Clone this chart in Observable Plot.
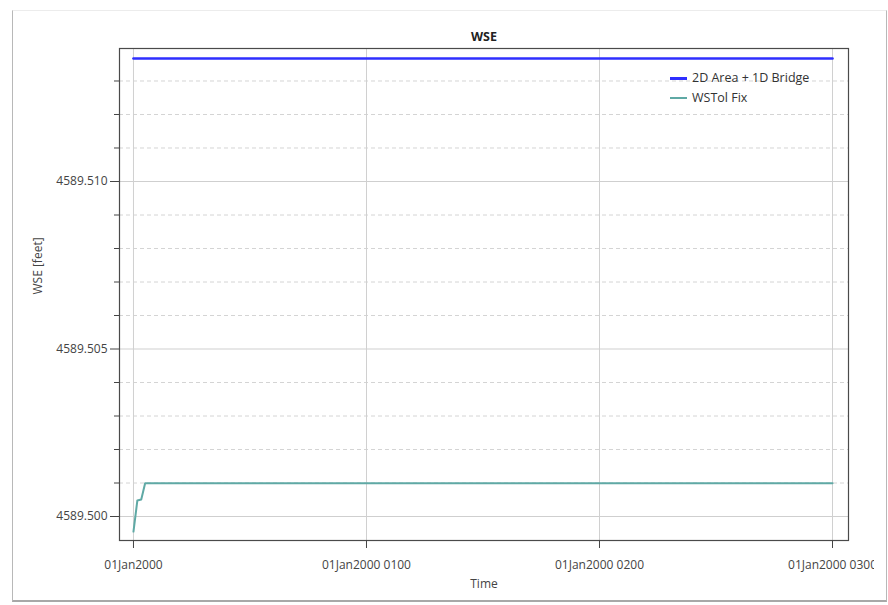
<!DOCTYPE html>
<html>
<head>
<meta charset="utf-8">
<script src="https://cdn.jsdelivr.net/npm/d3@7"></script>
<script src="https://cdn.jsdelivr.net/npm/@observablehq/plot@0.6"></script>
<style>
  html, body { margin: 0; padding: 0; background: #fff; }
  #wrap { position: relative; width: 888px; height: 605px; overflow: hidden; font-family: "Open Sans", "Noto Sans", sans-serif; }
  #border { position: absolute; left: 12px; top: 10px; width: 875px; height: 592px;
            border-left: 1px solid #b8b8b8; border-right: 1px solid #b8b8b8; border-bottom: 2px solid #a8a8a8; border-top: 1px solid #ececec; box-sizing: border-box; }
  #clip { position: absolute; left: 0; top: 0; width: 874px; height: 605px; overflow: hidden; }
  #clip svg { max-width: none !important; }
  #legend { position: absolute; left: 670px; top: 68px; font-size: 12.5px; color: #333; line-height: 20px; }
  #legend .row { display: flex; align-items: center; }
  #legend .sw { width: 17px; height: 0; margin-right: 5px; }
</style>
</head>
<body>
<div id="wrap">
  <div id="border"></div>
  <div id="clip"></div>
  <div id="legend"></div>
</div>
<script>
// ---- data ----
const seriesNames = ["2D Area + 1D Bridge", "WSTol Fix"];
const seriesColors = ["#2f2fff", "#5fa9a5"];
// series 1: 2D Area + 1D Bridge (minutes after 01Jan2000 0000, WSE feet)
const bridgeMinutes = [0, 180];
const bridgeWSE = [4589.51367, 4589.51367];
// series 2: WSTol Fix
const wstolMinutes = [0, 1, 2, 3, 180];
const wstolWSE = [4589.49955, 4589.50048, 4589.50051, 4589.50099, 4589.50099];
// axis ticks
const xTickHours = [0, 1, 2, 3];
const yMajorTicks = [4589.500, 4589.505, 4589.510];
const yMinorTicks = [4589.501, 4589.502, 4589.503, 4589.504, 4589.506, 4589.507, 4589.508, 4589.509, 4589.511, 4589.512, 4589.513];
const titleText = "WSE";
const xLabel = "Time";
const yLabel = "WSE [feet]";

const t0 = Date.UTC(2000, 0, 1, 0, 0);
const toDate = m => new Date(t0 + m * 60000);
const rows = [];
bridgeMinutes.forEach((m, i) => rows.push({t: toDate(m), v: bridgeWSE[i], s: seriesNames[0]}));
wstolMinutes.forEach((m, i) => rows.push({t: toDate(m), v: wstolWSE[i], s: seriesNames[1]}));
const xTicks = xTickHours.map(h => toDate(h * 60));
const fmtDay = d3.utcFormat("%d%b%Y");
const fmtHour = d3.utcFormat("%d%b%Y %H%M");
const tickFmt = d => (d.getUTCHours() === 0 && d.getUTCMinutes() === 0) ? fmtDay(d) : fmtHour(d);

const font = "'Open Sans', 'Noto Sans', sans-serif";
const chart = Plot.plot({
  width: 888,
  height: 605,
  marginLeft: 119,
  marginRight: 40,
  marginTop: 48,
  marginBottom: 65,
  style: {fontFamily: font, fontSize: "12px", color: "#444", background: "transparent", maxWidth: "none"},
  x: {type: "utc", domain: [toDate(-3.6), toDate(184.12)]},
  y: {domain: [4589.499284, 4589.513970]},
  color: {domain: seriesNames, range: seriesColors},
  marks: [
    Plot.gridY(yMinorTicks, {stroke: "#d4d4d4", strokeOpacity: 1, strokeDasharray: "4,3"}),
    Plot.gridY(yMajorTicks, {stroke: "#cfcfcf", strokeOpacity: 1}),
    Plot.gridX(xTicks, {stroke: "#d0d0d0", strokeOpacity: 1}),
    Plot.line(rows.filter(r => r.s === seriesNames[1]), {x: "t", y: "v", stroke: "s", strokeWidth: 2}),
    Plot.line(rows.filter(r => r.s === seriesNames[0]), {x: "t", y: "v", stroke: "s", strokeWidth: 2.6}),
    Plot.frame({stroke: "#4a4a4a", strokeWidth: 1.2}),
    Plot.axisY(yMinorTicks, {tickSize: 5, text: null, label: null, stroke: "#444"}),
    Plot.axisY(yMajorTicks, {tickSize: 9, tickPadding: 3, tickFormat: d3.format(".3f"), label: null, stroke: "#444", fill: "#444"}),
    Plot.axisX(xTicks, {tickSize: 8, tickPadding: 12, tickFormat: tickFmt, label: null, stroke: "#444", fill: "#444"}),
    Plot.text([titleText], {text: d => d, frameAnchor: "top", dy: -16, fontWeight: "bold", fontSize: 12.5, fill: "#222"}),
    Plot.text([xLabel], {text: d => d, frameAnchor: "bottom", dy: 47, fontSize: 12, fill: "#444"}),
    Plot.text([yLabel], {text: d => d, frameAnchor: "left", dx: -81, rotate: -90, fontSize: 12, fill: "#444"})
  ]
});
document.getElementById("clip").appendChild(chart);

const legend = document.getElementById("legend");
seriesNames.forEach((n, i) => {
  const row = document.createElement("div");
  row.className = "row";
  const sw = document.createElement("span");
  sw.className = "sw";
  sw.style.borderTop = `${i === 0 ? 3 : 2.5}px solid ${seriesColors[i]}`;
  const tx = document.createElement("span");
  tx.textContent = n;
  row.appendChild(sw); row.appendChild(tx);
  legend.appendChild(row);
});
</script>
</body>
</html>
